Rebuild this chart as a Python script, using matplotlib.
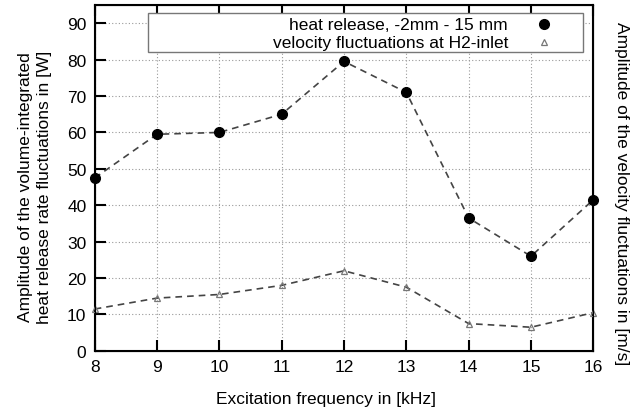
import numpy as np
import matplotlib.pyplot as plt
from matplotlib.patches import Rectangle

plt.rcParams['font.family'] = ['Liberation Sans', 'DejaVu Sans']

freq = [8, 9, 10, 11, 12, 13, 14, 15, 16]
heat = [47.5, 59.5, 60, 65, 79.5, 71, 36.5, 26, 41.5]
velo = [11.5, 14.5, 15.5, 18, 22, 17.5, 7.5, 6.5, 10.5]
labels = ['heat release, -2mm - 15 mm', 'velocity fluctuations at H2-inlet']

fs = 12.5
fig = plt.figure(figsize=(6.4, 4.14), dpi=100)
ax = fig.add_axes([0.148, 0.150, 0.779, 0.8355])

ax.plot(freq, heat, ls='--', color='#444444', lw=1.2, dashes=(4, 3),
        marker='o', ms=7, mfc='black', mec='black', clip_on=False, zorder=3)
ax.plot(freq, velo, ls='--', color='#444444', lw=1.2, dashes=(4, 3),
        marker='^', ms=5, mfc='none', mec='#777777', mew=0.9, clip_on=False, zorder=3)

ax.set_xlim(8, 16)
ax.set_ylim(0, 95)
ax.set_xticks(freq)
ax.set_yticks(np.arange(0, 91, 10))
ax.tick_params(direction='in', length=8, width=1.5, top=True, right=True,
               labelsize=fs, pad=6)
for s in ax.spines.values():
    s.set_linewidth(1.5)
ax.grid(True, ls=(0, (1, 2)), color='#999999', lw=0.8)

ax.set_xlabel('Excitation frequency in [kHz]', fontsize=fs, labelpad=12)
ax.xaxis.label.set_x(0.464)
ax.set_ylabel('Amplitude of the volume-integrated\nheat release rate fluctuations in [W]',
              fontsize=fs, labelpad=11, linespacing=1.35)
ax.yaxis.label.set_y(0.477)
ax2 = ax.twinx()
ax2.set_ylim(0, 95)
ax2.set_yticks([])
ax2.set_ylabel('Amplitude of the velocity fluctuations in [m/s]', fontsize=fs,
               rotation=270, labelpad=26)
ax2.yaxis.label.set_y(0.457)

# gnuplot-style key: text right-aligned, sample on the right
ax2.add_patch(Rectangle((0.106, 0.864), 0.874, 0.113, transform=ax2.transAxes,
                        facecolor='white', edgecolor='#777777', lw=1.0, zorder=5))
ax2.text(0.829, 0.945, labels[0], transform=ax2.transAxes, ha='right', va='center',
         fontsize=fs, zorder=6)
ax2.text(0.829, 0.893, labels[1], transform=ax2.transAxes, ha='right', va='center',
         fontsize=fs, zorder=6)
ax2.plot([0.902], [0.945], transform=ax2.transAxes, ls='none', marker='o', ms=7,
         mfc='black', mec='black', zorder=6)
ax2.plot([0.902], [0.893], transform=ax2.transAxes, ls='none', marker='^', ms=5,
         mfc='none', mec='#777777', mew=0.9, zorder=6)

fig.savefig('out.png', dpi=100)
